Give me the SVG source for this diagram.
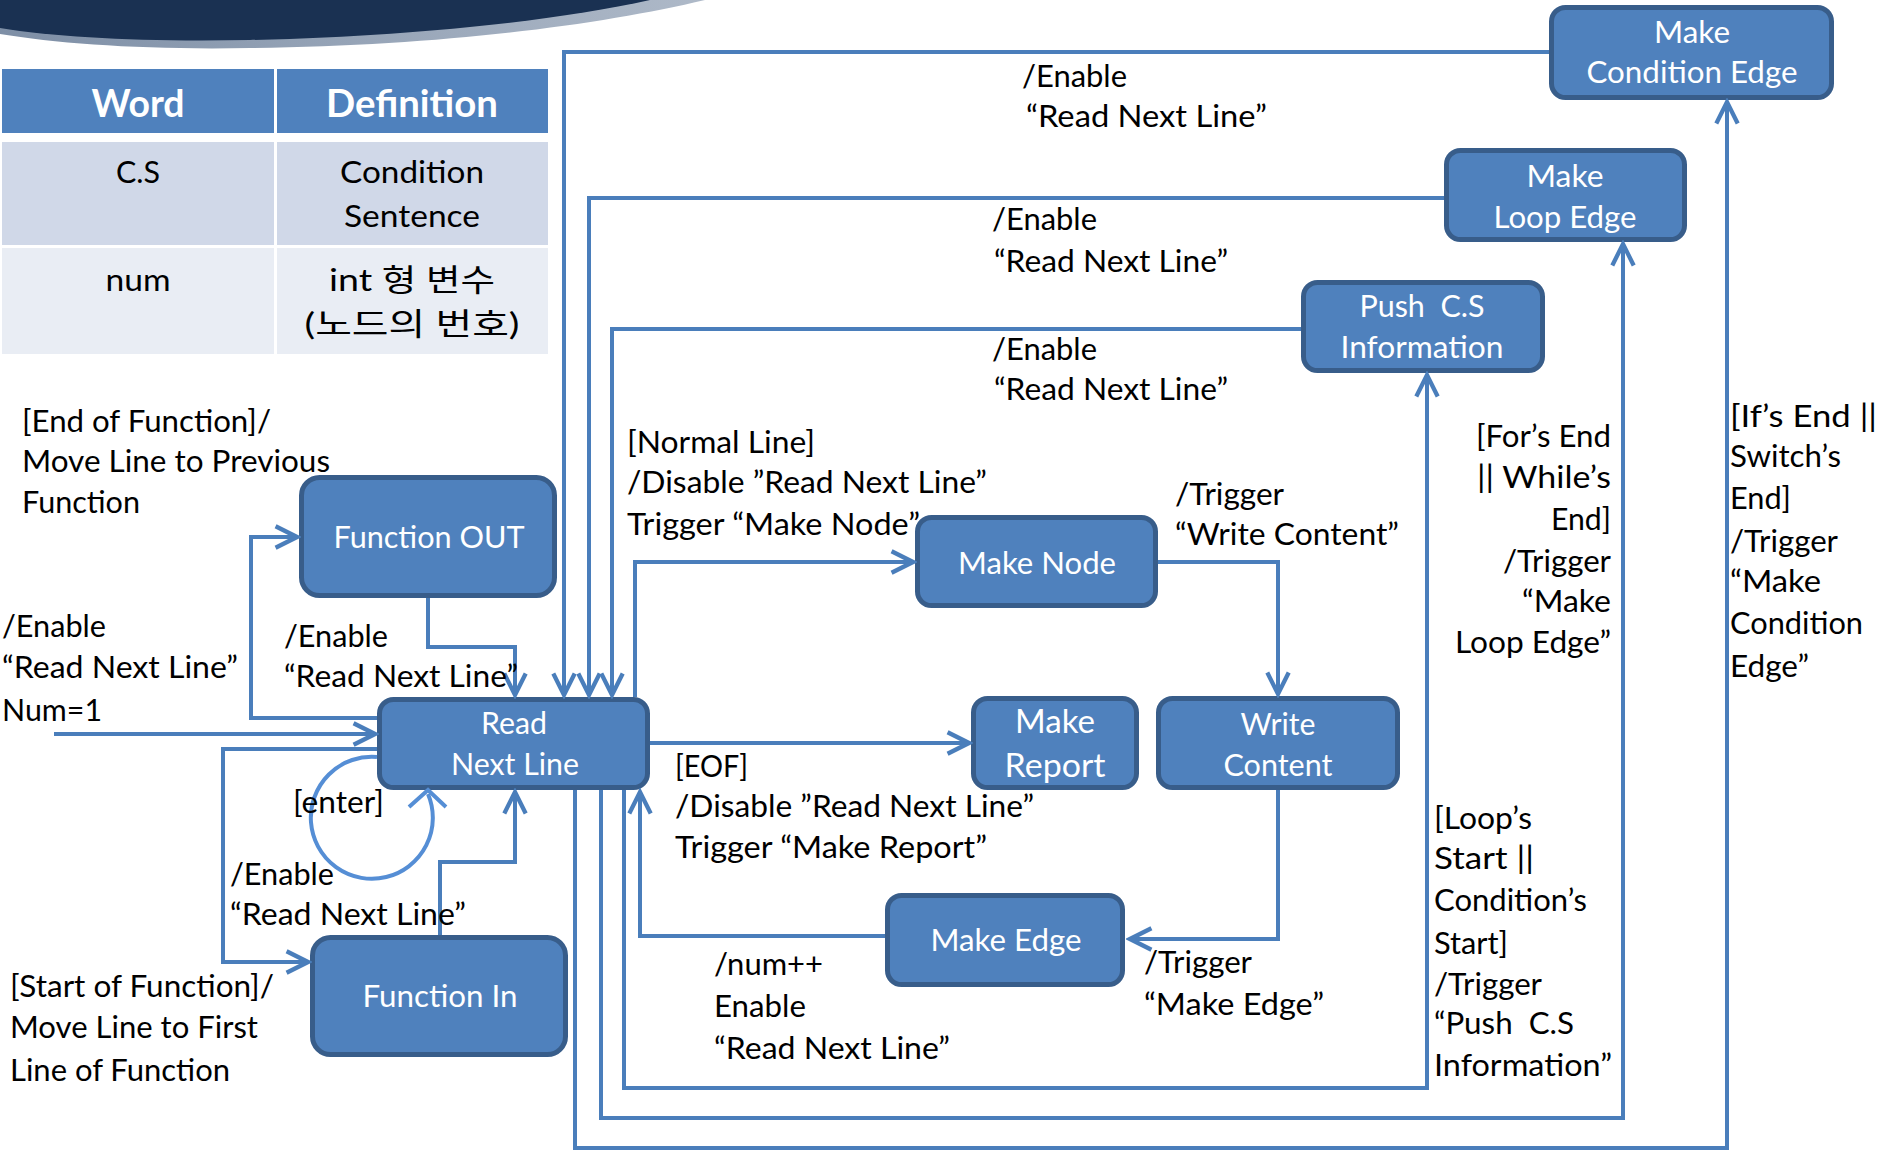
<svg xmlns="http://www.w3.org/2000/svg" width="1883" height="1153" viewBox="0 0 1883 1153">
  <defs>
    <style>
      .lbl { font-family: Lato, "Noto Sans CJK KR", sans-serif; font-size: 30px; fill: #000; white-space: pre; }
      .nt { font-family: Lato, "Noto Sans CJK KR", sans-serif; font-size: 30px; fill: #fff; text-anchor: middle; white-space: pre; }
      .th { font-family: Lato, sans-serif; font-size: 38px; font-weight: bold; fill: #fff; text-anchor: middle; }
      .td { font-family: Lato, "Noto Sans CJK KR", sans-serif; font-size: 31px; fill: #000; text-anchor: middle; }
      .node rect { fill: #4F81BD; stroke: #385D8A; stroke-width: 5; }
      .conn path { fill: none; stroke: #4A7EBB; stroke-width: 4; marker-end: url(#arr); }
      .conn .loop { stroke: #558ED5; marker-end: none; }
    </style>
    <marker id="arr" markerUnits="userSpaceOnUse" markerWidth="30" markerHeight="30" viewBox="-24 -14 28 28" refX="0" refY="0" orient="auto">
      <path d="M-20,-10 L0,0 L-20,10" fill="none" stroke="#4A7EBB" stroke-width="4"/>
    </marker>
    <linearGradient id="edge" x1="0" y1="0" x2="1" y2="0">
      <stop offset="0" stop-color="#7E8FA6"/>
      <stop offset="1" stop-color="#AEB9C8"/>
    </linearGradient>
  </defs>

  <!-- header band -->
  <path d="M0,0 H705 C600,25 440,46 250,48 C150,50 60,44 0,34 Z" fill="url(#edge)"/>
  <path d="M0,0 H650 C560,20 420,36 250,40 C150,42 60,38 0,28 Z" fill="#1A3152"/>

  <!-- glossary table -->
  <g id="glossary">
    <rect x="2" y="69" width="272" height="64" fill="#4F81BD"/>
    <rect x="277" y="69" width="271" height="64" fill="#4F81BD"/>
    <rect x="2" y="142" width="272" height="103" fill="#D0D8E8"/>
    <rect x="277" y="142" width="271" height="103" fill="#D0D8E8"/>
    <rect x="2" y="248" width="272" height="106" fill="#E9EDF4"/>
    <rect x="277" y="248" width="271" height="106" fill="#E9EDF4"/>
    <text class="th" x="138" y="117" textLength="93" lengthAdjust="spacingAndGlyphs">Word</text>
    <text class="th" x="412" y="117" textLength="172" lengthAdjust="spacingAndGlyphs">Definition</text>
    <text class="td" x="138" y="183" textLength="44" lengthAdjust="spacingAndGlyphs">C.S</text>
    <text class="td" x="412" y="183" textLength="144" lengthAdjust="spacingAndGlyphs">Condition</text>
    <text class="td" x="412" y="227" textLength="136" lengthAdjust="spacingAndGlyphs">Sentence</text>
    <text class="td" x="138" y="291" textLength="65" lengthAdjust="spacingAndGlyphs">num</text>
    <text class="td" x="412" y="291" textLength="166" lengthAdjust="spacingAndGlyphs">int 형 변수</text>
    <text class="td" x="412" y="335" textLength="215" lengthAdjust="spacingAndGlyphs">(노드의 번호)</text>
  </g>

  <!-- states -->
  <g id="make-condition-edge" class="node">
    <rect x="1551.5" y="7.5" width="280" height="90" rx="14"/>
    <text class="nt" x="1692" y="43" textLength="76" lengthAdjust="spacingAndGlyphs">Make</text>
    <text class="nt" x="1692" y="83" textLength="211" lengthAdjust="spacingAndGlyphs">Condition Edge</text>
  </g>
  <g id="make-loop-edge" class="node">
    <rect x="1446.5" y="150.5" width="238" height="89" rx="14"/>
    <text class="nt" x="1565" y="187" textLength="77" lengthAdjust="spacingAndGlyphs">Make</text>
    <text class="nt" x="1565" y="228" textLength="143" lengthAdjust="spacingAndGlyphs">Loop Edge</text>
  </g>
  <g id="push-cs-information" class="node">
    <rect x="1303.5" y="282.5" width="239" height="88" rx="14"/>
    <text class="nt" x="1422" y="317" textLength="125" lengthAdjust="spacingAndGlyphs">Push  C.S</text>
    <text class="nt" x="1422" y="358" textLength="163" lengthAdjust="spacingAndGlyphs">Information</text>
  </g>
  <g id="function-out" class="node">
    <rect x="301.5" y="477.5" width="253" height="118" rx="18"/>
    <text class="nt" x="429" y="548" textLength="191" lengthAdjust="spacingAndGlyphs">Function OUT</text>
  </g>
  <g id="make-node" class="node">
    <rect x="917.5" y="517.5" width="238" height="88" rx="14"/>
    <text class="nt" x="1037" y="574" textLength="158" lengthAdjust="spacingAndGlyphs">Make Node</text>
  </g>
  <g id="read-next-line" class="node">
    <rect x="379.5" y="699.5" width="268" height="88" rx="14"/>
    <text class="nt" x="514" y="734" textLength="66" lengthAdjust="spacingAndGlyphs">Read</text>
    <text class="nt" x="515" y="775" textLength="128" lengthAdjust="spacingAndGlyphs">Next Line</text>
  </g>
  <g id="make-report" class="node">
    <rect x="973.5" y="698.5" width="163" height="89" rx="14"/>
    <text class="nt" x="1055" y="733" style="font-size:32px" textLength="80" lengthAdjust="spacingAndGlyphs">Make</text>
    <text class="nt" x="1055" y="777" style="font-size:32px" textLength="101" lengthAdjust="spacingAndGlyphs">Report</text>
  </g>
  <g id="write-content" class="node">
    <rect x="1158.5" y="698.5" width="239" height="89" rx="14"/>
    <text class="nt" x="1278" y="735" textLength="75" lengthAdjust="spacingAndGlyphs">Write</text>
    <text class="nt" x="1278" y="776" textLength="109" lengthAdjust="spacingAndGlyphs">Content</text>
  </g>
  <g id="make-edge" class="node">
    <rect x="887.5" y="895.5" width="235" height="89" rx="14"/>
    <text class="nt" x="1006" y="951" textLength="151" lengthAdjust="spacingAndGlyphs">Make Edge</text>
  </g>
  <g id="function-in" class="node">
    <rect x="312.5" y="937.5" width="253" height="117" rx="18"/>
    <text class="nt" x="440" y="1007" textLength="155" lengthAdjust="spacingAndGlyphs">Function In</text>
  </g>

  <!-- transitions -->
  <g id="connectors" class="conn">
    <path d="M54,734 L375,734"/>
    <path d="M377,718 L251,718 L251,537 L297,537"/>
    <path d="M428,598 L428,647 L515,647 L515,695"/>
    <path d="M377,749 L223,749 L223,962 L308,962"/>
    <path d="M440,935 L440,862 L515,862 L515,792"/>
    <path class="loop" d="M377,757 A61,61 0 1 0 428,794"/>
    <path d="M409,807 L428,790 L446,807" style="marker-end:none;stroke:#558ED5"/>
    <path d="M1549,52 L564,52 L564,695"/>
    <path d="M1444,198 L589,198 L589,695"/>
    <path d="M1301,329 L612,329 L612,695"/>
    <path d="M635,697 L635,562 L913,562"/>
    <path d="M1158,562 L1278,562 L1278,694"/>
    <path d="M650,743 L969,743"/>
    <path d="M1278,790 L1278,939 L1130,939"/>
    <path d="M885,936 L640,936 L640,792"/>
    <path d="M624,790 L624,1088 L1427,1088 L1427,375"/>
    <path d="M601,790 L601,1118 L1623,1118 L1623,244"/>
    <path d="M575,790 L575,1148 L1727,1148 L1727,102"/>
  </g>

  <!-- transition labels -->
  <g id="labels">
    <text class="lbl" x="22" y="432" textLength="249" lengthAdjust="spacingAndGlyphs">[End of Function]/</text>
    <text class="lbl" x="22" y="472" textLength="308" lengthAdjust="spacingAndGlyphs">Move Line to Previous</text>
    <text class="lbl" x="22" y="513" textLength="118" lengthAdjust="spacingAndGlyphs">Function</text>

    <text class="lbl" x="2" y="637" textLength="104" lengthAdjust="spacingAndGlyphs">/Enable</text>
    <text class="lbl" x="2" y="678" textLength="236" lengthAdjust="spacingAndGlyphs">“Read Next Line”</text>
    <text class="lbl" x="2" y="721" textLength="100" lengthAdjust="spacingAndGlyphs">Num=1</text>

    <text class="lbl" x="284" y="647" textLength="104" lengthAdjust="spacingAndGlyphs">/Enable</text>
    <text class="lbl" x="284" y="687" textLength="234" lengthAdjust="spacingAndGlyphs">“Read Next Line”</text>

    <text class="lbl" x="293" y="813" textLength="91" lengthAdjust="spacingAndGlyphs">[enter]</text>
    <text class="lbl" x="230" y="885" textLength="104" lengthAdjust="spacingAndGlyphs">/Enable</text>
    <text class="lbl" x="230" y="925" textLength="236" lengthAdjust="spacingAndGlyphs">“Read Next Line”</text>

    <text class="lbl" x="10" y="997" textLength="264" lengthAdjust="spacingAndGlyphs">[Start of Function]/</text>
    <text class="lbl" x="10" y="1038" textLength="248" lengthAdjust="spacingAndGlyphs">Move Line to First</text>
    <text class="lbl" x="10" y="1081" textLength="220" lengthAdjust="spacingAndGlyphs">Line of Function</text>

    <text class="lbl" x="1022" y="87" textLength="105" lengthAdjust="spacingAndGlyphs">/Enable</text>
    <text class="lbl" x="1026" y="127" textLength="241" lengthAdjust="spacingAndGlyphs">“Read Next Line”</text>
    <text class="lbl" x="992" y="230" textLength="105" lengthAdjust="spacingAndGlyphs">/Enable</text>
    <text class="lbl" x="994" y="272" textLength="234" lengthAdjust="spacingAndGlyphs">“Read Next Line”</text>
    <text class="lbl" x="992" y="360" textLength="105" lengthAdjust="spacingAndGlyphs">/Enable</text>
    <text class="lbl" x="994" y="400" textLength="234" lengthAdjust="spacingAndGlyphs">“Read Next Line”</text>

    <text class="lbl" x="627" y="453" textLength="188" lengthAdjust="spacingAndGlyphs">[Normal Line]</text>
    <text class="lbl" x="627" y="493" textLength="360" lengthAdjust="spacingAndGlyphs">/Disable ”Read Next Line”</text>
    <text class="lbl" x="627" y="535" textLength="293" lengthAdjust="spacingAndGlyphs">Trigger “Make Node”</text>

    <text class="lbl" x="1175" y="505" textLength="109" lengthAdjust="spacingAndGlyphs">/Trigger</text>
    <text class="lbl" x="1175" y="545" textLength="224" lengthAdjust="spacingAndGlyphs">“Write Content”</text>

    <text class="lbl" x="675" y="777" textLength="73" lengthAdjust="spacingAndGlyphs">[EOF]</text>
    <text class="lbl" x="675" y="817" textLength="359" lengthAdjust="spacingAndGlyphs">/Disable ”Read Next Line”</text>
    <text class="lbl" x="675" y="858" textLength="312" lengthAdjust="spacingAndGlyphs">Trigger “Make Report”</text>

    <text class="lbl" x="714" y="975" textLength="109" lengthAdjust="spacingAndGlyphs">/num++</text>
    <text class="lbl" x="714" y="1017" textLength="92" lengthAdjust="spacingAndGlyphs">Enable</text>
    <text class="lbl" x="714" y="1059" textLength="236" lengthAdjust="spacingAndGlyphs">“Read Next Line”</text>

    <text class="lbl" x="1144" y="973" textLength="108" lengthAdjust="spacingAndGlyphs">/Trigger</text>
    <text class="lbl" x="1144" y="1015" textLength="180" lengthAdjust="spacingAndGlyphs">“Make Edge”</text>

    <g text-anchor="end">
      <text class="lbl" x="1611" y="447" textLength="135" lengthAdjust="spacingAndGlyphs">[For’s End</text>
      <text class="lbl" x="1611" y="488" textLength="134" lengthAdjust="spacingAndGlyphs">|| While’s</text>
      <text class="lbl" x="1611" y="530" textLength="60" lengthAdjust="spacingAndGlyphs">End]</text>
      <text class="lbl" x="1611" y="572" textLength="108" lengthAdjust="spacingAndGlyphs">/Trigger</text>
      <text class="lbl" x="1611" y="612" textLength="89" lengthAdjust="spacingAndGlyphs">“Make</text>
      <text class="lbl" x="1611" y="653" textLength="156" lengthAdjust="spacingAndGlyphs">Loop Edge”</text>
    </g>

    <text class="lbl" x="1730" y="427" textLength="147" lengthAdjust="spacingAndGlyphs">[If’s End ||</text>
    <text class="lbl" x="1730" y="467" textLength="111" lengthAdjust="spacingAndGlyphs">Switch’s</text>
    <text class="lbl" x="1730" y="509" textLength="61" lengthAdjust="spacingAndGlyphs">End]</text>
    <text class="lbl" x="1730" y="552" textLength="108" lengthAdjust="spacingAndGlyphs">/Trigger</text>
    <text class="lbl" x="1730" y="592" textLength="91" lengthAdjust="spacingAndGlyphs">“Make</text>
    <text class="lbl" x="1730" y="634" textLength="133" lengthAdjust="spacingAndGlyphs">Condition</text>
    <text class="lbl" x="1730" y="677" textLength="79" lengthAdjust="spacingAndGlyphs">Edge”</text>

    <text class="lbl" x="1434" y="829" textLength="98" lengthAdjust="spacingAndGlyphs">[Loop’s</text>
    <text class="lbl" x="1434" y="869" textLength="100" lengthAdjust="spacingAndGlyphs">Start ||</text>
    <text class="lbl" x="1434" y="911" textLength="153" lengthAdjust="spacingAndGlyphs">Condition’s</text>
    <text class="lbl" x="1434" y="954" textLength="74" lengthAdjust="spacingAndGlyphs">Start]</text>
    <text class="lbl" x="1434" y="995" textLength="108" lengthAdjust="spacingAndGlyphs">/Trigger</text>
    <text class="lbl" x="1434" y="1034" textLength="140" lengthAdjust="spacingAndGlyphs">“Push  C.S</text>
    <text class="lbl" x="1434" y="1076" textLength="178" lengthAdjust="spacingAndGlyphs">Information”</text>
  </g>
</svg>
